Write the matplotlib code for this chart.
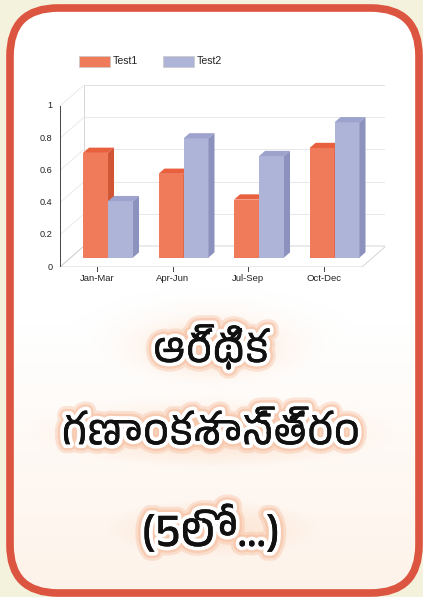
import matplotlib
matplotlib.use("Agg")
import matplotlib.pyplot as plt
import numpy as np
from matplotlib.patches import Polygon, FancyBboxPatch, Rectangle
from matplotlib import font_manager
from matplotlib.ft2font import FT2Font
import matplotlib.patheffects as pe

# ---- data ----
categories = ["Jan-Mar", "Apr-Jun", "Jul-Sep", "Oct-Dec"]
series_names = ["Test1", "Test2"]
test1 = [0.65, 0.52, 0.36, 0.68]
test2 = [0.35, 0.74, 0.63, 0.84]
y_ticks = [0, 0.2, 0.4, 0.6, 0.8, 1]
y_tick_labels = ["0", "0.2", "0.4", "0.6", "0.8", "1"]
title_lines = ["ఆర్థిక", "గణాంకశాస్త్రం", "(5లో...)"]

# ---- find a Telugu-capable font ----
telugu_family = None
for f in font_manager.fontManager.ttflist:
    if "telugu" in f.name.lower():
        telugu_family = f.name
        break
if telugu_family is None:
    for f in font_manager.fontManager.ttflist:
        try:
            if 0x0C06 in FT2Font(f.fname).get_charmap():
                telugu_family = f.name
                break
        except Exception:
            pass
title_fonts = ([telugu_family] if telugu_family else []) + ["DejaVu Sans"]

W, H = 423, 597
fig = plt.figure(figsize=(W / 100, H / 100), dpi=100)
fig.patch.set_facecolor("#f4f1dd")

# ---- card background ----
bg = fig.add_axes([0, 0, 1, 1])
bg.set_xlim(0, W)
bg.set_ylim(H, 0)
bg.axis("off")
cx0, cy0, cx1, cy1 = 10, 8, 419, 593
card = FancyBboxPatch((cx0, cy0), cx1 - cx0, cy1 - cy0,
                      boxstyle="round,pad=0,rounding_size=48",
                      facecolor="white", edgecolor="none")
bg.add_patch(card)
# peach glow gradient inside card
yy, xx = np.mgrid[0:H, 0:W]
glow = np.zeros((H, W))
for cy, sy, sx in [(347, 28, 70), (435, 30, 150), (530, 30, 110)]:
    glow = np.maximum(glow, np.exp(-((yy - cy) / sy) ** 2) * np.exp(-((xx - 212) / sx) ** 2))
base = np.clip((yy - 320) / 270, 0, 1) * 0.22
a = np.clip(np.maximum(glow * 0.45, base), 0, 1)
img = np.zeros((H, W, 4))
img[..., 0] = 0.98
img[..., 1] = 0.78
img[..., 2] = 0.62
img[..., 3] = a
im = bg.imshow(img, extent=(0, W, H, 0), zorder=1, interpolation="bilinear")
im.set_clip_path(card)
border = FancyBboxPatch((cx0, cy0), cx1 - cx0, cy1 - cy0,
                        boxstyle="round,pad=0,rounding_size=48",
                        facecolor="none", edgecolor="#dc5540", linewidth=5.5, zorder=3)
bg.add_patch(border)

# ---- chart axes (front plane coordinates) ----
ax_left, ax_right, ax_top, ax_bottom = 60, 385, 80, 267
ax = fig.add_axes([ax_left / W, 1 - ax_bottom / H, (ax_right - ax_left) / W, (ax_bottom - ax_top) / H])
ax.set_facecolor("none")
px_per_cat = 75.5
x0 = -(97 - ax_left) / px_per_cat
ax.set_xlim(x0, x0 + (ax_right - ax_left) / px_per_cat)
ax.set_ylim(0, (ax_bottom - ax_top) / 161.0)
for s in ax.spines.values():
    s.set_visible(False)

ddx, ddy = 24 / px_per_cat, 21 / 161.0
xf_end = x0 + (362 - ax_left) / px_per_cat
grid_c = "#d6d6d6"
# floor
ax.add_patch(Polygon([(x0, 0), (xf_end, 0), (xf_end + ddx, ddy), (x0 + ddx, ddy)],
                     closed=True, facecolor="white", edgecolor=grid_c, lw=0.7, zorder=1))
# back wall and grid lines
ax.plot([x0 + ddx, x0 + ddx, xf_end + ddx, xf_end + ddx], [ddy, 1 + ddy, 1 + ddy, ddy],
        color=grid_c, lw=0.7, zorder=1)
for t in y_ticks[1:]:
    ax.plot([x0 + ddx, xf_end + ddx], [t + ddy, t + ddy], color="#e4e4e4", lw=0.6, zorder=1)
    ax.plot([x0, x0 + ddx], [t, t + ddy], color="#e8e8e8", lw=0.6, zorder=1)
ax.plot([x0, x0 + ddx], [0, ddy], color=grid_c, lw=0.6, zorder=1)

# front axes
ax.plot([x0, x0], [0, 1], color="#444444", lw=0.7, zorder=5)
ax.plot([x0, xf_end], [0, 0], color="#444444", lw=0.7, zorder=5)
for t, lab in zip(y_ticks, y_tick_labels):
    ax.plot([x0 - 0.05, x0], [t, t], color="#444444", lw=0.7, zorder=5)
    ax.text(x0 - 0.1, t, lab, ha="right", va="center", fontsize=6.6,
            family="Liberation Sans", color="#222222")
for t in np.arange(0.05, 1.0, 0.05):
    if abs(t * 5 - round(t * 5)) > 1e-6:
        ax.plot([x0 - 0.025, x0], [t, t], color="#444444", lw=0.5, zorder=5)
for i, c in enumerate(categories):
    ax.plot([i, i], [0, -0.025], color="#444444", lw=0.7, zorder=5, clip_on=False)
    ax.text(i, -0.072, c, ha="center", va="center", fontsize=6.8,
            family="Liberation Sans", color="#222222", clip_on=False)
ax.set_xticks([])
ax.set_yticks([])

# ---- 3D bars ----
fshift_x, fshift_y = 0.45 * ddx, 0.45 * ddy
bdx, bdy = 0.25 * ddx, 0.25 * ddy
bw = 0.331
colors = [("#ef7b5b", "#e8603e", "#cf5535"), ("#aeb3d8", "#9ea3cd", "#8c91bd")]
offsets = [-0.328, 0.003]
for s, vals in enumerate([test1, test2]):
    front, top, side = colors[s]
    xs = np.arange(len(vals)) + offsets[s] + fshift_x
    ax.bar(xs, vals, width=bw, bottom=fshift_y, align="edge", color=front,
           edgecolor="none", zorder=3 + s * 0.1)
    for xl, v in zip(xs, vals):
        yt = v + fshift_y
        ax.add_patch(Polygon([(xl, yt), (xl + bw, yt), (xl + bw + bdx, yt + bdy), (xl + bdx, yt + bdy)],
                             closed=True, facecolor=top, edgecolor="none", zorder=3 + s * 0.1))
        ax.add_patch(Polygon([(xl + bw, fshift_y), (xl + bw + bdx, fshift_y + bdy),
                              (xl + bw + bdx, yt + bdy), (xl + bw, yt)],
                             closed=True, facecolor=side, edgecolor="none", zorder=3 + s * 0.1))

# ---- legend ----
for name, (front, _, _), lx in zip(series_names, colors, [79, 163]):
    bg.add_patch(Rectangle((lx, 56), 31, 11, facecolor=front, edgecolor="#c8c8c8", lw=0.5, zorder=4))
    bg.text(lx + 34, 61.5, name, ha="left", va="center", fontsize=7.6,
            family="Liberation Sans", color="#222222", zorder=4)

# ---- Telugu title ----
effects = [pe.withStroke(linewidth=13, foreground="#f7b998", alpha=0.35),
           pe.withStroke(linewidth=9, foreground="#f6c0a2", alpha=0.6),
           pe.withStroke(linewidth=5.5, foreground="white"),
           pe.Normal()]
for txt, y, fs in zip(title_lines, [347, 432, 530], [30, 30, 34]):
    bg.text(211, y, txt, ha="center", va="center", fontsize=fs, fontweight="bold",
            family=title_fonts, color="#111111", zorder=5, path_effects=effects)

fig.savefig("out.png", dpi=100, facecolor=fig.get_facecolor())
